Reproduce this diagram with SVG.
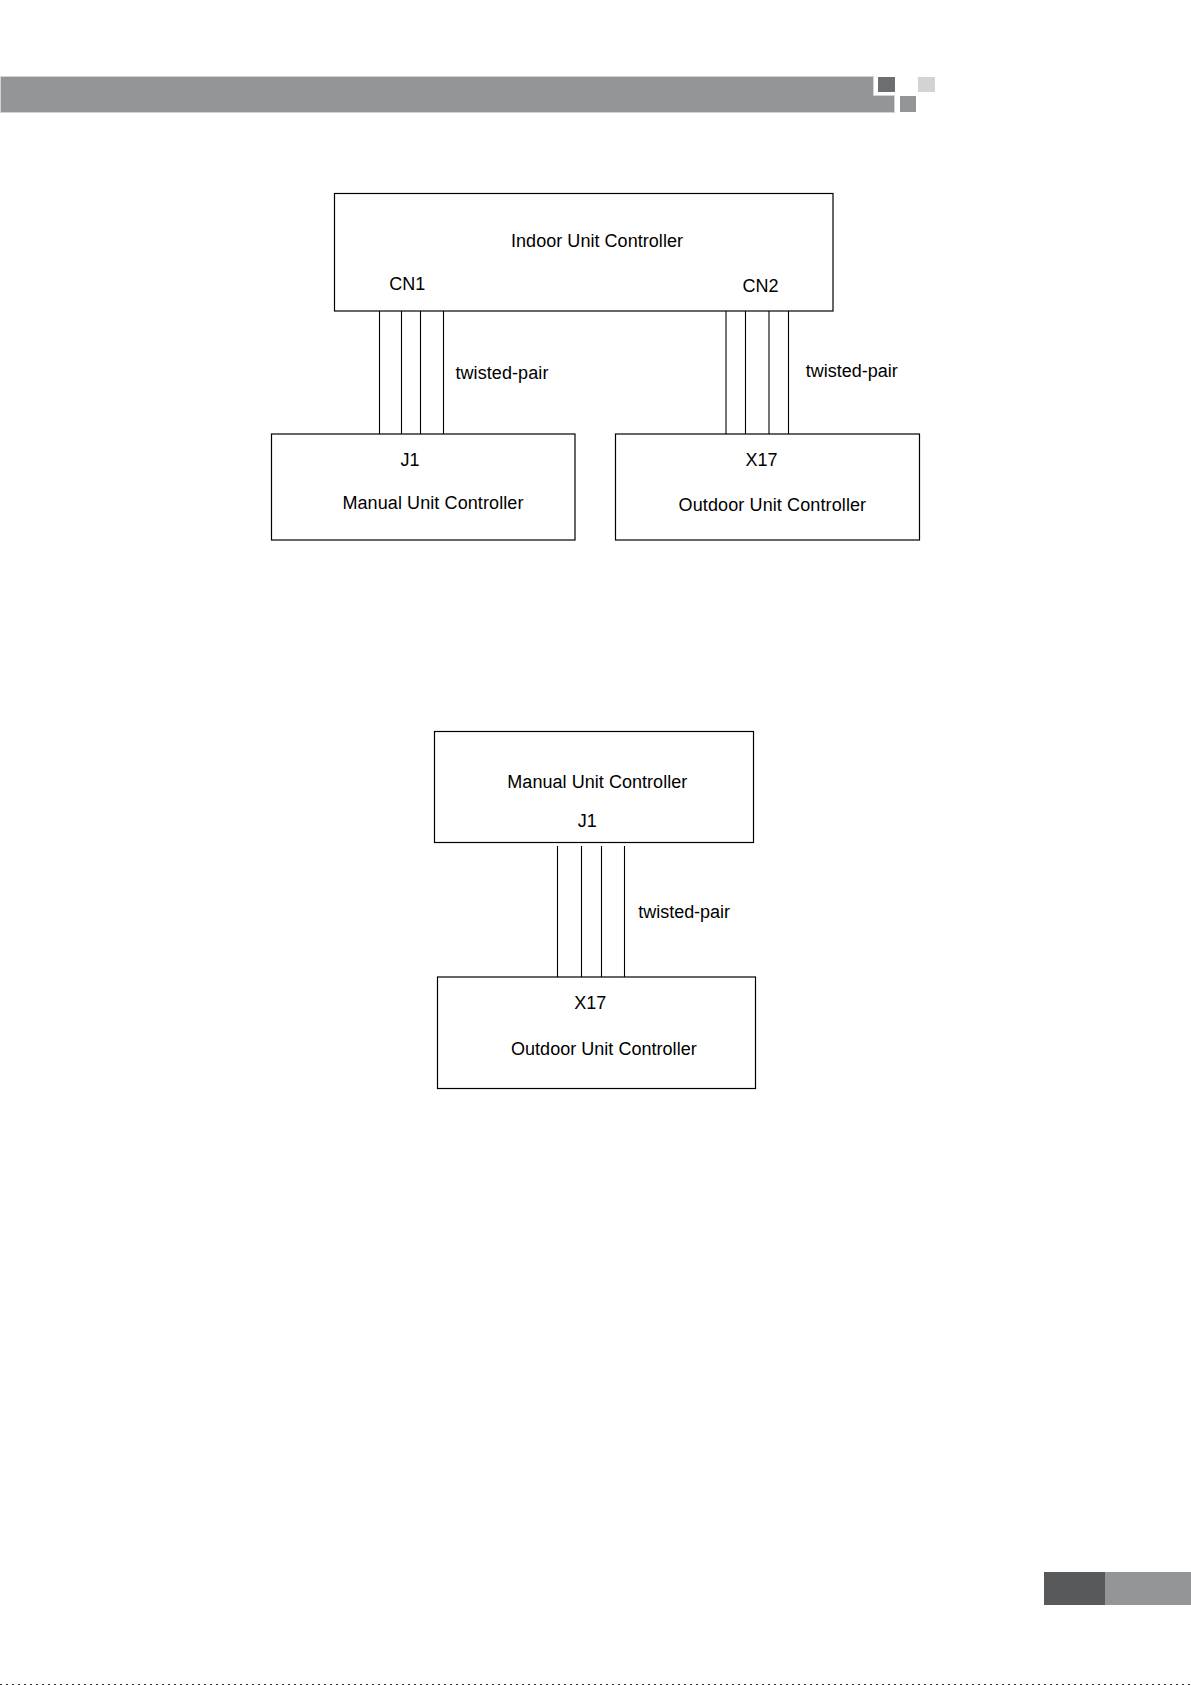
<svg xmlns="http://www.w3.org/2000/svg" width="1191" height="1685" viewBox="0 0 1191 1685">
<style>
.box{fill:#fff;stroke:#000;stroke-width:1.2}
.wire{stroke:#000;stroke-width:1.1;fill:none}
text{font-family:"Liberation Sans",Arial,sans-serif;font-size:18px;fill:#000}
</style>
<rect width="1191" height="1685" fill="#fff"/>
<g id="header">
<path d="M0.5,76.5 H873.5 V95.5 H894.5 V112.5 H0.5 Z" fill="#939598" stroke="#d1d3d4" stroke-width="1"/>
<rect x="878" y="77" width="17" height="15" fill="#6d6e71"/>
<rect x="900" y="96" width="16" height="16" fill="#939598"/>
<rect x="918" y="77" width="17" height="15" fill="#d1d3d4"/>
</g>
<g id="footer">
<rect x="1044" y="1572" width="61" height="33" fill="#58595b"/>
<rect x="1105" y="1572" width="86" height="33" fill="#939598"/>
<line x1="0" y1="1684.5" x2="1191" y2="1684.5" stroke="#333" stroke-width="1" stroke-dasharray="2 4"/>
</g>
<g id="connectors">
<line class="wire" x1="379.5" y1="311" x2="379.5" y2="434"/>
<line class="wire" x1="401.5" y1="311" x2="401.5" y2="434"/>
<line class="wire" x1="420.5" y1="311" x2="420.5" y2="434"/>
<line class="wire" x1="443.5" y1="311" x2="443.5" y2="434"/>
<line class="wire" x1="726" y1="311" x2="726" y2="434"/>
<line class="wire" x1="745.5" y1="311" x2="745.5" y2="434"/>
<line class="wire" x1="769" y1="311" x2="769" y2="434"/>
<line class="wire" x1="788.5" y1="311" x2="788.5" y2="434"/>
<line class="wire" x1="557.5" y1="846" x2="557.5" y2="977"/>
<line class="wire" x1="581.5" y1="846" x2="581.5" y2="977"/>
<line class="wire" x1="601.5" y1="846" x2="601.5" y2="977"/>
<line class="wire" x1="624.5" y1="846" x2="624.5" y2="977"/>
<text x="455.4" y="379" textLength="93">twisted-pair</text>
<text x="805.8" y="376.7" textLength="92">twisted-pair</text>
<text x="638.3" y="918.3" textLength="91.7">twisted-pair</text>
</g>
<g id="indoor-unit">
<rect class="box" x="334.5" y="193.5" width="498.5" height="117.5"/>
<text x="511" y="246.7" textLength="172">Indoor Unit Controller</text>
<text x="389.3" y="290">CN1</text>
<text x="742.4" y="292">CN2</text>
</g>
<g id="manual-unit-1">
<rect class="box" x="271.5" y="434" width="303.5" height="106"/>
<text x="400.4" y="465.7">J1</text>
<text x="342.4" y="509.3" textLength="181">Manual Unit Controller</text>
</g>
<g id="outdoor-unit-1">
<rect class="box" x="615.5" y="434" width="304" height="106"/>
<text x="745.5" y="465.7">X17</text>
<text x="678.6" y="511" textLength="187.5">Outdoor Unit Controller</text>
</g>
<g id="manual-unit-2">
<rect class="box" x="434.5" y="731.5" width="319" height="111"/>
<text x="507.3" y="787.7" textLength="180">Manual Unit Controller</text>
<text x="577.7" y="826.7">J1</text>
</g>
<g id="outdoor-unit-2">
<rect class="box" x="437.5" y="977" width="318" height="111.5"/>
<text x="574.3" y="1009">X17</text>
<text x="511" y="1055" textLength="185.7">Outdoor Unit Controller</text>
</g>
</svg>
